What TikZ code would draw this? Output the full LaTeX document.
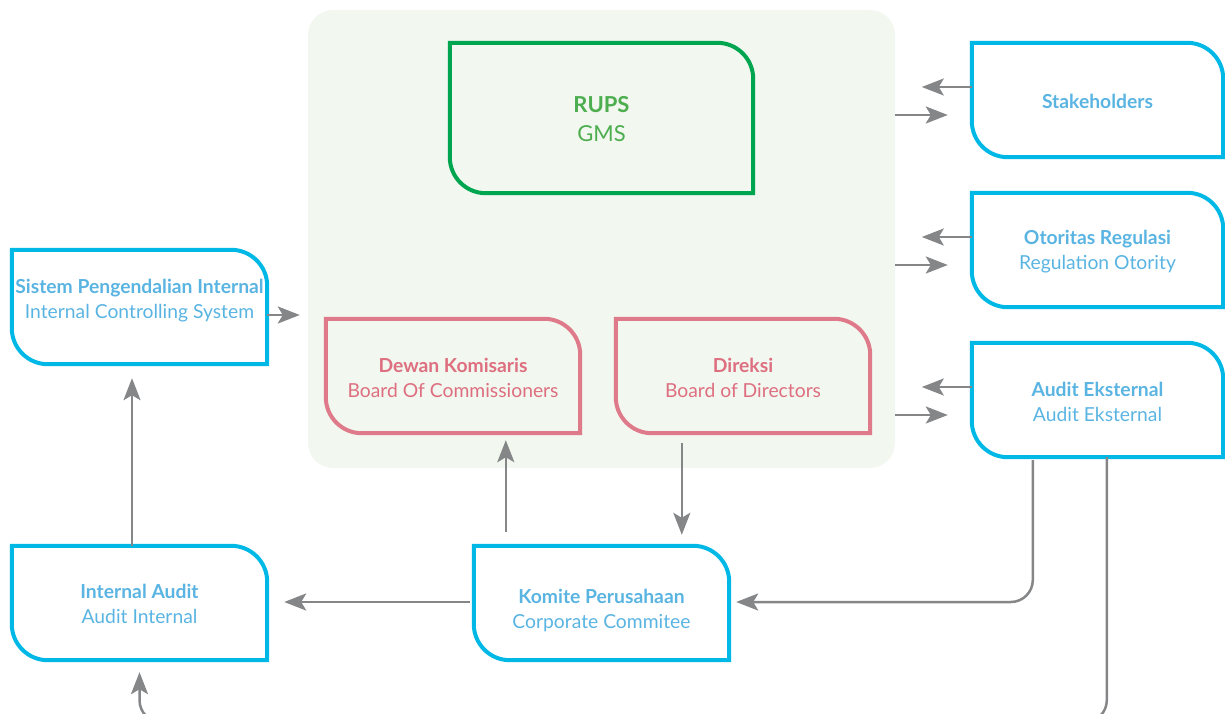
\documentclass[tikz,border=0pt]{standalone}
\usepackage{fontspec}
\setmainfont{Lato}
\usetikzlibrary{arrows.meta}
\definecolor{cyanb}{HTML}{00B8E6}
\definecolor{bluet}{HTML}{5AB4E2}
\definecolor{greenb}{HTML}{00A54F}
\definecolor{greent}{HTML}{4DAE50}
\definecolor{pinkb}{HTML}{DF7A8A}
\definecolor{pinkt}{HTML}{DE6F80}
\definecolor{arrowc}{HTML}{858688}
\definecolor{panelc}{HTML}{F2F7EF}
\tikzset{
  box/.style={inner sep=0pt, minimum width=255pt, minimum height=114pt},
  bluebox/.style={box},
  pinkbox/.style={box, minimum width=254pt},
  greenbox/.style={box, minimum width=303pt, minimum height=150pt},
  txt/.style={inner sep=0pt, align=center, font=\fontsize{19.3}{25}\selectfont},
  bluetxt/.style={txt, text=bluet},
  pinktxt/.style={txt, text=pinkt},
  greentxt/.style={txt, text=greent, font=\fontsize{22}{29.5}\selectfont},
  blueline/.style={draw=cyanb, line width=4pt},
  pinkline/.style={draw=pinkb, line width=4pt},
  greenline/.style={draw=greenb, line width=4pt},
  conn/.style={draw=arrowc, line width=2.5pt, -{Stealth[length=22pt,width=17pt,inset=5pt]}},
}
\newcommand\tagpath[2]{%
  \draw[#2] (#1.north west) -- ([xshift=-36pt]#1.north east)
    arc[start angle=90,end angle=0,radius=36pt] -- (#1.south east)
    -- ([xshift=36pt]#1.south west)
    arc[start angle=270,end angle=180,radius=36pt] -- cycle;}
\begin{document}
\begin{tikzpicture}[x=1pt,y=1pt]
\useasboundingbox (0,-714) rectangle (1225,0);
\clip (0,-714) rectangle (1225,0);
% panel
\node[fill=panelc, rounded corners=25pt, minimum width=587pt, minimum height=458pt, inner sep=0pt] (panel) at (601.5,-239) {};
% boxes
\node[greenbox] (rups) at (601.5,-118) {};
\node[bluebox, minimum width=251pt] (stk) at (1097.5,-100) {};
\node[bluebox, minimum width=251pt] (oto) at (1097.5,-250) {};
\node[bluebox, minimum width=251pt] (ae) at (1097.5,-400) {};
\node[bluebox] (sys) at (139.5,-307) {};
\node[pinkbox] (dew) at (453,-376) {};
\node[pinkbox] (dir) at (743,-376) {};
\node[bluebox] (ia) at (139.5,-603) {};
\node[bluebox] (kom) at (601.5,-603) {};
% texts
\node[greentxt] (rupsT) at ([yshift=-1pt]rups.center) {\textbf{RUPS}\\GMS};
\node[bluetxt] (stkT) at ([yshift=-1pt]stk.center) {\textbf{Stakeholders}};
\node[bluetxt] (otoT) at ([yshift=-2pt]oto.center) {\textbf{Otoritas Regulasi}\\Regulation Otority};
\node[bluetxt] (aeT) at ([yshift=-2pt]ae.center) {\textbf{Audit Eksternal}\\Audit Eksternal};
\node[bluetxt] (sysT) at ([yshift=6pt]sys.center) {\textbf{Sistem Pengendalian Internal}\\Internal Controlling System};
\node[pinktxt] (dewT) at ([yshift=-2pt]dew.center) {\textbf{Dewan Komisaris}\\Board Of Commissioners};
\node[pinktxt] (dirT) at ([yshift=-2pt]dir.center) {\textbf{Direksi}\\Board of Directors};
\node[bluetxt] (iaT) at ([yshift=-1pt]ia.center) {\textbf{Internal Audit}\\Audit Internal};
\node[bluetxt] (komT) at ([yshift=-7pt]kom.center) {\textbf{Komite Perusahaan}\\Corporate Commitee};
% outlines
\tagpath{rups}{greenline}
\tagpath{stk}{blueline}
\tagpath{oto}{blueline}
\tagpath{ae}{blueline}
\tagpath{sys}{blueline}
\tagpath{dew}{pinkline}
\tagpath{dir}{pinkline}
\tagpath{ia}{blueline}
\tagpath{kom}{blueline}
% connectors right side
\foreach \n in {stk,oto,ae}{
  \draw[conn] ([yshift=13pt]\n.west) -- ([xshift=-50pt,yshift=13pt]\n.west);
  \draw[conn] ([yshift=-15pt]\n.west -| panel.east) -- ([xshift=-24pt,yshift=-15pt]\n.west);
}
\draw[conn, shorten >=8pt] ([yshift=-8pt]sys.east) -- ([yshift=-8pt]sys.east -| panel.west);
\draw[conn, shorten >=14pt] ([xshift=-7.5pt]ia.north) -- ([xshift=-7.5pt]sys.south);
\draw[conn] ([xshift=-4pt,yshift=1pt]kom.west) -- ([xshift=17pt,yshift=1pt]ia.east);
\draw[conn, shorten <=14pt, shorten >=7pt] ([xshift=32pt]kom.north west) -- ([xshift=32pt]kom.north west |- dew.south);
\draw[conn, shorten <=10pt, shorten >=11pt] ([xshift=66pt]dir.south west) -- ([xshift=66pt]dir.south west |- kom.north);
\draw[conn, rounded corners=22pt, shorten <=3pt, shorten >=7pt] ([xshift=61pt]ae.south west) |- ([yshift=1pt]kom.east);
\draw[conn, rounded corners=22pt, shorten >=12pt] ([xshift=135pt]ae.south west) |- ([yshift=-62pt]ia.south) -- (ia.south);
\end{tikzpicture}
\end{document}
